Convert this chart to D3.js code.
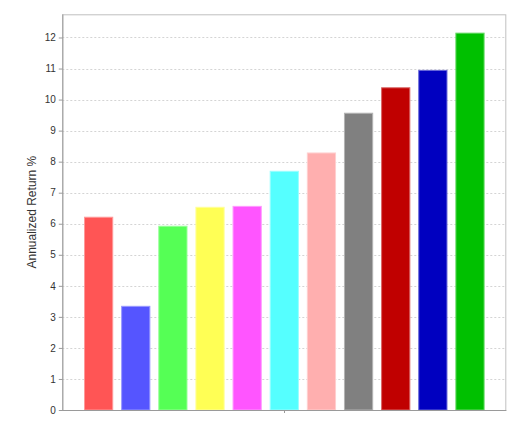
<!DOCTYPE html>
<html>
<head>
<meta charset="utf-8">
<script src="https://cdn.jsdelivr.net/npm/d3@7"></script>
<style>
  body { margin: 0; background: #fff; }
  svg { display: block; font-family: "DejaVu Sans", sans-serif; }
  .tick text { font-size: 10px; fill: #333; }
</style>
</head>
<body>
<div id="chart"></div>
<script>
// Data: one category, eleven series
var series = ['S1','S2','S3','S4','S5','S6','S7','S8','S9','S10','S11'];
var values = [6.21, 3.34, 5.92, 6.53, 6.56, 7.69, 8.28, 9.56, 10.38, 10.94, 12.14];
var colors = ['#ff5555','#5555ff','#55ff55','#ffff55','#ff55ff','#55ffff','#ffafaf','#808080','#c00000','#0000c0','#00c000'];
var yTicks = [0,1,2,3,4,5,6,7,8,9,10,11,12];

var width = 518, height = 425;
var margin = {top: 14.3, right: 11.7, bottom: 15, left: 62.3};
var w = width - margin.left - margin.right;

var svg = d3.select('#chart')
  .append('svg')
  .attr('width', width)
  .attr('height', height);

// Scales
var yScale = d3.scaleLinear()
  .domain([0, d3.max(values) * 1.05])
  .range([410, margin.top]);

var edge = w * 0.05;
var xScale = d3.scaleBand()
  .domain(series)
  .range([margin.left + edge, margin.left + w - edge])
  .paddingInner(0.24)
  .paddingOuter(0);

// Grid lines
svg.append('g')
  .selectAll('line')
  .data(yTicks)
  .enter()
  .append('line')
  .attr('x1', margin.left)
  .attr('x2', margin.left + w)
  .attr('y1', d => Math.round(yScale(d)) + 0.5)
  .attr('y2', d => Math.round(yScale(d)) + 0.5)
  .attr('stroke', '#d4d4d4')
  .attr('stroke-dasharray', '2,2');

// Plot border (top/right)
svg.append('rect')
  .attr('x', margin.left + 0.5)
  .attr('y', margin.top + 0.5)
  .attr('width', w - 1)
  .attr('height', 410 - margin.top)
  .attr('fill', 'none')
  .attr('stroke', '#c0c0c0');

// Bars
svg.append('g')
  .selectAll('rect')
  .data(values)
  .enter()
  .append('rect')
  .attr('x', (d, i) => xScale(series[i]))
  .attr('y', d => yScale(d))
  .attr('width', xScale.bandwidth())
  .attr('height', d => 410 - yScale(d))
  .attr('fill', (d, i) => colors[i])
  .attr('stroke', (d, i) => d3.interpolateRgb(colors[i], '#fff')(0.4))
  .attr('stroke-width', 1);

// Y axis
var yAxis = d3.axisLeft(yScale).tickValues(yTicks).tickSize(4).tickPadding(3).tickFormat(d3.format('d'));
svg.append('g')
  .attr('transform', `translate(${margin.left + 0.5}, 0)`)
  .call(yAxis)
  .call(g => g.select('.domain').attr('stroke', '#9a9a9a').attr('d', `M0,${margin.top}V410.5`))
  .call(g => g.selectAll('.tick line').attr('stroke', '#9a9a9a'));

// X axis: one category tick in the middle
svg.append('line')
  .attr('x1', margin.left)
  .attr('x2', margin.left + w)
  .attr('y1', 410.5)
  .attr('y2', 410.5)
  .attr('stroke', '#9a9a9a');
svg.append('line')
  .attr('x1', Math.round(margin.left + w / 2) + 0.5)
  .attr('x2', Math.round(margin.left + w / 2) + 0.5)
  .attr('y1', 410.5)
  .attr('y2', 413)
  .attr('stroke', '#9a9a9a');

// Y axis title
svg.append('text')
  .attr('transform', `translate(36, ${(margin.top + 410) / 2}) rotate(-90)`)
  .attr('text-anchor', 'middle')
  .style('font-family', '"Liberation Sans", Arial, sans-serif')
  .style('font-size', '12px')
  .attr('fill', '#333')
  .text('Annualized Return %');
</script>
</body>
</html>
